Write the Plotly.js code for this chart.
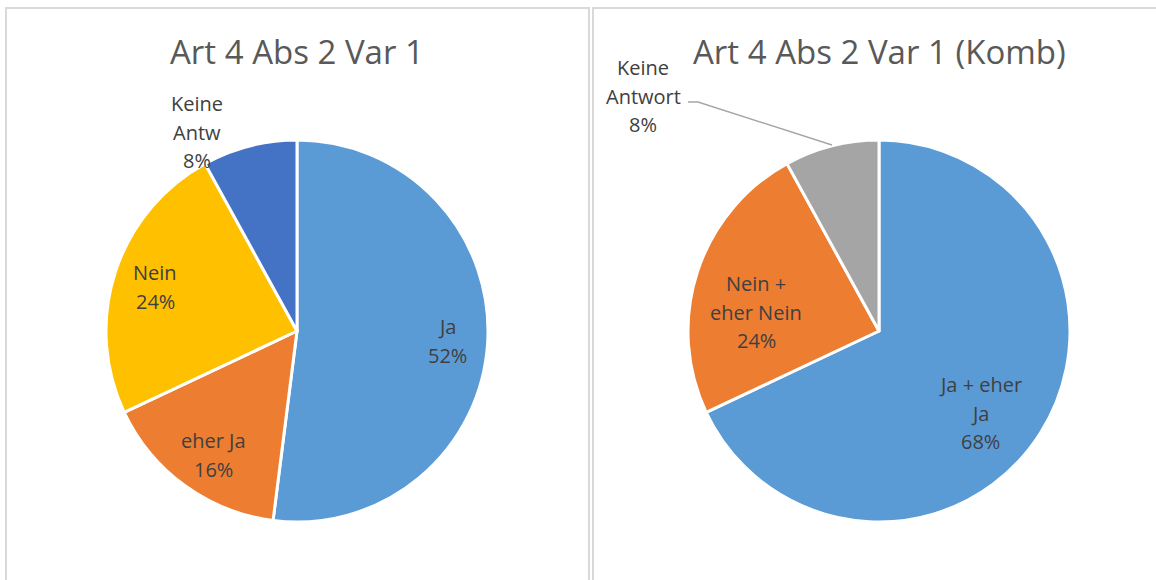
<!DOCTYPE html>
<html>
<head>
<meta charset="utf-8">
<script src="https://cdn.plot.ly/plotly-3.0.1.min.js"></script>
<style>
  html, body { margin: 0; padding: 0; background: #ffffff; }
  #chart { width: 1156px; height: 580px; }
</style>
</head>
<body>
<div id="chart"></div>
<script>
// ---- Data ----
const titles = ["Art 4 Abs 2 Var 1", "Art 4 Abs 2 Var 1 (Komb)"];

const leftLabels = ["Ja", "eher Ja", "Nein", "Keine Antw"];
const leftValues = [52, 16, 24, 8];
const leftColors = ["#5B9BD5", "#ED7D31", "#FFC000", "#4472C4"];
const leftText = [["Ja", "52%"], ["eher Ja", "16%"], ["Nein", "24%"], ["Keine", "Antw", "8%"]];

const rightLabels = ["Ja + eher Ja", "Nein + eher Nein", "Keine Antwort"];
const rightValues = [68, 24, 8];
const rightColors = ["#5B9BD5", "#ED7D31", "#A5A5A5"];
const rightText = [["Ja + eher", "Ja", "68%"], ["Nein +", "eher Nein", "24%"], ["Keine", "Antwort", "8%"]];

// ---- Layout helpers (pixel -> paper) ----
const W = 1156, H = 580;
const px = x => x / W;
const py = y => 1 - y / H;

const FONT = "'Open Sans', 'DejaVu Sans', sans-serif";
const LABEL_COLOR = "#404040";
const LABEL_SIZE = 20;
const LINE_GAP = 28.5;

function pieTrace(labels, values, colors, cx, cy, r) {
  return {
    type: "pie",
    labels: labels,
    values: values,
    sort: false,
    direction: "clockwise",
    rotation: 0,
    textinfo: "none",
    hoverinfo: "label+percent",
    showlegend: false,
    marker: { colors: colors, line: { color: "#ffffff", width: 3 } },
    domain: { x: [px(cx - r), px(cx + r)], y: [py(cy + r), py(cy - r)] }
  };
}

const traces = [
  pieTrace(leftLabels, leftValues, leftColors, 297, 331, 191),
  pieTrace(rightLabels, rightValues, rightColors, 879, 331, 191)
];

// label positions (pixel centers of the text blocks)
const leftPos = [[447, 341], [213, 455], [155, 287], [197, 132]];
const rightPos = [[980, 413], [756, 312], [643, 96]];

const annotations = [];
function addLabels(texts, pos) {
  texts.forEach((lines, i) => {
    const n = lines.length;
    lines.forEach((line, j) => {
      const yc = pos[i][1] + (j - (n - 1) / 2) * LINE_GAP;
      annotations.push({
        xref: "paper", yref: "paper",
        x: px(pos[i][0]), y: py(yc),
        xanchor: "center", yanchor: "middle",
        text: line, showarrow: false, align: "center",
        font: { family: FONT, size: LABEL_SIZE, color: LABEL_COLOR }
      });
    });
  });
}
addLabels(leftText, leftPos);
addLabels(rightText, rightPos);

// chart titles
[[297, titles[0]], [879, titles[1]]].forEach(([cx, t]) => {
  annotations.push({
    xref: "paper", yref: "paper",
    x: px(cx), y: py(52),
    xanchor: "center", yanchor: "middle",
    text: t, showarrow: false,
    font: { family: FONT, size: 33, color: "#595959" }
  });
});

const shapes = [
  // panel borders
  { type: "rect", xref: "paper", yref: "paper",
    x0: px(6), x1: px(589), y0: py(600), y1: py(8),
    line: { color: "#D9D9D9", width: 2 }, fillcolor: "rgba(0,0,0,0)" },
  { type: "rect", xref: "paper", yref: "paper",
    x0: px(593), x1: px(1180), y0: py(600), y1: py(8),
    line: { color: "#D9D9D9", width: 2 }, fillcolor: "rgba(0,0,0,0)" },
  // leader line for "Keine Antwort"
  { type: "path", xref: "paper", yref: "paper",
    path: `M ${px(688)} ${py(102)} L ${px(698)} ${py(102)} L ${px(832)} ${py(145)}`,
    line: { color: "#A6A6A6", width: 1.5 } }
];

const layout = {
  width: W, height: H,
  margin: { l: 0, r: 0, t: 0, b: 0 },
  paper_bgcolor: "#ffffff",
  plot_bgcolor: "#ffffff",
  showlegend: false,
  annotations: annotations,
  shapes: shapes,
  font: { family: FONT }
};

Plotly.newPlot("chart", traces, layout, { displayModeBar: false, staticPlot: true });
</script>
</body>
</html>
